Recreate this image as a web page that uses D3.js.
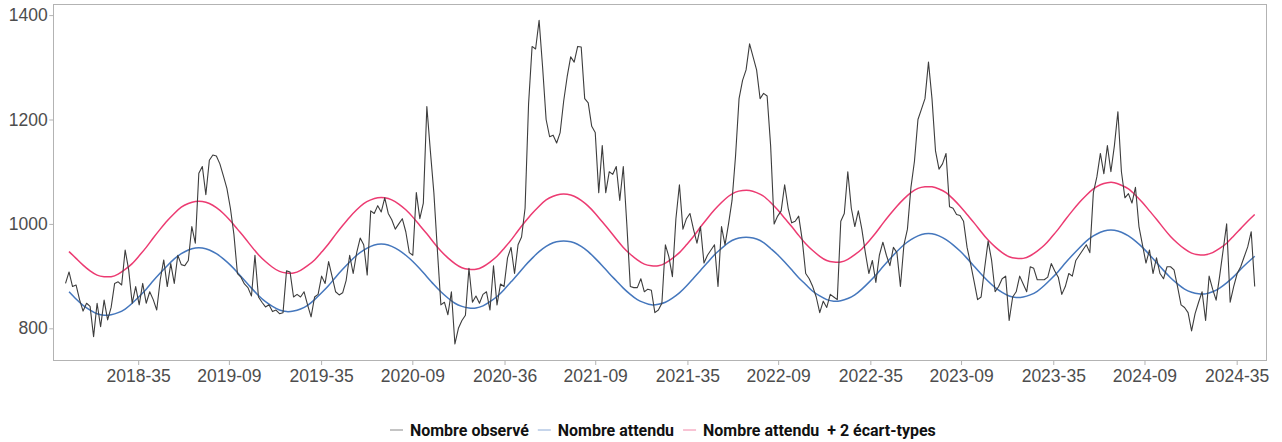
<!DOCTYPE html>
<html><head><meta charset="utf-8">
<script src="https://cdn.jsdelivr.net/npm/d3@7"></script>
<style>body{margin:0;background:#fff;} svg{display:block;}</style>
</head><body><svg id="chart" width="1282" height="442"></svg>
<script>
// ---- data ----
const firstWeek = "2018-04-09";   // Monday of the first observed week
const observed = [
 886,908,880,883,855,833,848,842,784,848,
 803,854,816,840,886,889,883,950,912,848,
 880,845,886,848,870,855,835,893,931,880,
 924,886,940,922,920,930,995,963,1097,1110,
 1056,1122,1132,1130,1115,1092,1068,1030,980,905,
 898,885,878,862,940,860,850,841,845,832,
 835,828,830,910,908,860,865,860,870,845,
 822,860,865,900,886,928,899,870,864,868,
 892,940,905,945,973,960,902,1025,1020,1035,
 1023,1050,1020,1008,990,1000,1010,985,945,940,
 1060,1010,1040,1225,1140,1060,950,845,850,826,
 870,770,800,815,825,915,850,862,848,865,
 870,835,920,845,885,880,935,955,905,960,
 975,1030,1230,1340,1335,1390,1300,1200,1167,1170,
 1155,1175,1235,1282,1320,1310,1340,1339,1240,1232,
 1187,1175,1060,1150,1060,1100,1095,1110,1045,1110,
 1000,880,878,878,895,870,875,873,830,835,
 848,960,937,899,1010,1075,990,1010,1020,990,
 963,995,925,940,950,960,880,995,960,1000,
 1045,1130,1240,1275,1295,1345,1320,1295,1240,1250,
 1245,1150,1000,1015,1025,1075,1030,1002,1005,1015,
 970,905,895,880,860,830,852,840,865,860,
 855,1005,1020,1100,1030,995,1025,990,945,905,
 930,888,940,965,940,920,955,945,880,960,
 990,1070,1120,1200,1220,1240,1310,1240,1140,1105,
 1115,1135,1033,1030,1018,1016,1005,955,924,890,
 855,860,915,967,930,870,880,895,900,815,
 860,870,900,885,870,918,915,893,893,893,
 898,924,910,898,865,880,905,900,930,940,
 950,960,945,1060,1090,1135,1096,1150,1100,1150,
 1215,1100,1050,1058,1040,1070,995,960,925,950,
 905,935,905,895,918,918,912,880,845,840,
 830,795,828,850,870,815,900,875,854,900,
 950,1000,850,880,905,918,937,956,985,880
];
// expected values, read every second week (starting with the 2nd observed week)
const expected = [
 870,856,844,835,828,825,826,830,837,848,861,875,891,906,920,933,943,950,954,954,950,943,933,921,907,892,
 877,863,851,842,835,832,833,837,844,855,868,882,898,913,927,940,950,957,961,961,957,950,940,928,914,899,
 884,870,858,848,842,839,839,843,851,861,874,889,904,920,934,947,957,964,967,967,964,957,947,934,920,905,
 891,877,865,855,849,845,846,850,858,868,881,896,911,926,941,953,964,971,974,974,971,964,953,941,927,912,
 897,884,871,862,855,852,853,857,864,875,888,902,918,933,947,960,970,977,981,981,977,970,960,948,934,919,
 904,890,878,869,862,859,860,864,871,882,895,909,925,940,954,967,977,984,988,988,984,977,967,955,941,926,
 911,897,885,875,869,866,866,870,877,887,899,913,926,938
];
const expectedPlus2Sd = [
 947,934,921,910,902,899,899,904,913,924,939,955,973,990,1006,1020,1032,1039,1043,1043,1039,1031,1020,1006,990,974,
 957,941,928,917,909,906,906,911,920,931,946,962,980,997,1013,1027,1039,1046,1050,1050,1046,1038,1027,1013,997,981,
 964,948,935,924,916,913,913,918,927,938,953,969,987,1004,1020,1034,1046,1053,1057,1057,1053,1045,1034,1020,1004,988,
 971,955,942,931,923,920,920,925,934,945,960,976,994,1011,1027,1041,1053,1061,1064,1064,1060,1053,1041,1027,1011,995,
 978,962,949,938,930,927,927,932,941,952,967,983,1001,1018,1034,1048,1060,1068,1071,1071,1067,1060,1048,1034,1018,1002,
 985,969,956,945,937,934,934,939,948,959,974,990,1008,1025,1041,1055,1067,1075,1079,1079,1074,1067,1055,1041,1025,1009,
 992,976,963,952,944,941,941,945,953,963,977,991,1005,1018
];
const yTicks = [800, 1000, 1200, 1400];
const xTickDates = ["2018-09-01","2019-03-01","2019-09-01","2020-03-01","2020-09-01","2021-03-01",
  "2021-09-01","2022-03-01","2022-09-01","2023-03-01","2023-09-01","2024-03-01","2024-09-01"];
const xTickLabels = ["2018-35","2019-09","2019-35","2020-09","2020-36","2021-09",
  "2021-35","2022-09","2022-35","2023-09","2023-35","2024-09","2024-35"];
const seriesNames = ["Nombre observé", "Nombre attendu", "Nombre attendu\u00a0 + 2 écart-types"];
const seriesColors = ["#3d3d3d", "#4577bd", "#ec3b72"];

// ---- chart ----
const svg = d3.select("#chart");
const parse = d3.utcParse("%Y-%m-%d");
const start = parse(firstWeek);
const weeks = observed.map((_, i) => d3.utcDay.offset(start, 7 * i));
const expWeeks = weeks.filter((_, i) => i % 2 === 1);

const panel = {left: 53.5, right: 1266.5, top: 4.3, bottom: 361};
const x = d3.scaleUtc()
  .domain([Date.UTC(2018, 2, 16), Date.UTC(2024, 9, 30, 12)])
  .range([panel.left, panel.right]);
const y = d3.scaleLinear().domain([737.4, 1420.7]).range([panel.bottom, panel.top]);

// panel border
svg.append("rect")
  .attr("x", 53.5).attr("y", 4.5).attr("width", 1213).attr("height", 356)
  .attr("fill", "none").attr("stroke", "#b3b3b3").attr("stroke-width", 1);

const lineObs = d3.line().x((d, i) => x(weeks[i])).y(d => y(d));
const lineExp = d3.line().x((d, i) => x(expWeeks[i])).y(d => y(d)).curve(d3.curveNatural);

svg.append("path").datum(expectedPlus2Sd).attr("d", lineExp)
  .attr("fill", "none").attr("stroke", seriesColors[2]).attr("stroke-width", 1.5);
svg.append("path").datum(expected).attr("d", lineExp)
  .attr("fill", "none").attr("stroke", seriesColors[1]).attr("stroke-width", 1.5);
svg.append("path").datum(observed).attr("d", lineObs)
  .attr("fill", "none").attr("stroke", seriesColors[0]).attr("stroke-width", 1.1)
  .attr("stroke-linejoin", "round");

// axes
const xAxis = d3.axisBottom(x)
  .tickValues(xTickDates.map(parse))
  .tickFormat((d, i) => xTickLabels[i])
  .tickSize(4).tickPadding(4.2);
const gx = svg.append("g").attr("transform", `translate(0,${panel.bottom})`).call(xAxis);
const yAxis = d3.axisLeft(y).tickValues(yTicks).tickFormat(d3.format("d")).tickSize(4).tickPadding(1.5);
const gy = svg.append("g").attr("transform", `translate(${panel.left - 0.2},0)`).call(yAxis);
[gx, gy].forEach(g => {
  g.select(".domain").remove();
  g.selectAll(".tick line").attr("stroke", "#b3b3b3");
  g.selectAll(".tick text").attr("fill", "#4d4d4d")
    .style("font-family", "'Liberation Sans', Arial, sans-serif").style("font-size", "17.5px");
});

// legend: keys + bold labels, spread to the reference's overall width (390 -> 936)
const keyW = 13, keyGap = 7, itemGap = 9, legLeft = 390, legRight = 936;
const leg = svg.append("g");
const texts = seriesNames.map((name, i) => leg.append("text").attr("y", 435.5)
  .attr("fill", "#111").style("font-family", "Roboto, 'Liberation Sans', sans-serif")
  .style("font-weight", "bold").style("font-size", "14px").text(name));
const natural = d3.sum(texts, t => t.node().getComputedTextLength());
const wanted = (legRight - legLeft) - seriesNames.length * (keyW + keyGap) - (seriesNames.length - 1) * itemGap;
const fs = 14 * wanted / natural;
let cx = legLeft;
texts.forEach((t, i) => {
  t.style("font-size", fs + "px");
  leg.append("line").attr("x1", cx).attr("x2", cx + keyW).attr("y1", 430).attr("y2", 430)
    .attr("stroke", seriesColors[i]).attr("stroke-width", 1).attr("opacity", 0.6);
  t.attr("x", cx + keyW + keyGap);
  cx += keyW + keyGap + t.node().getComputedTextLength() + itemGap;
});
</script>
</body></html>
